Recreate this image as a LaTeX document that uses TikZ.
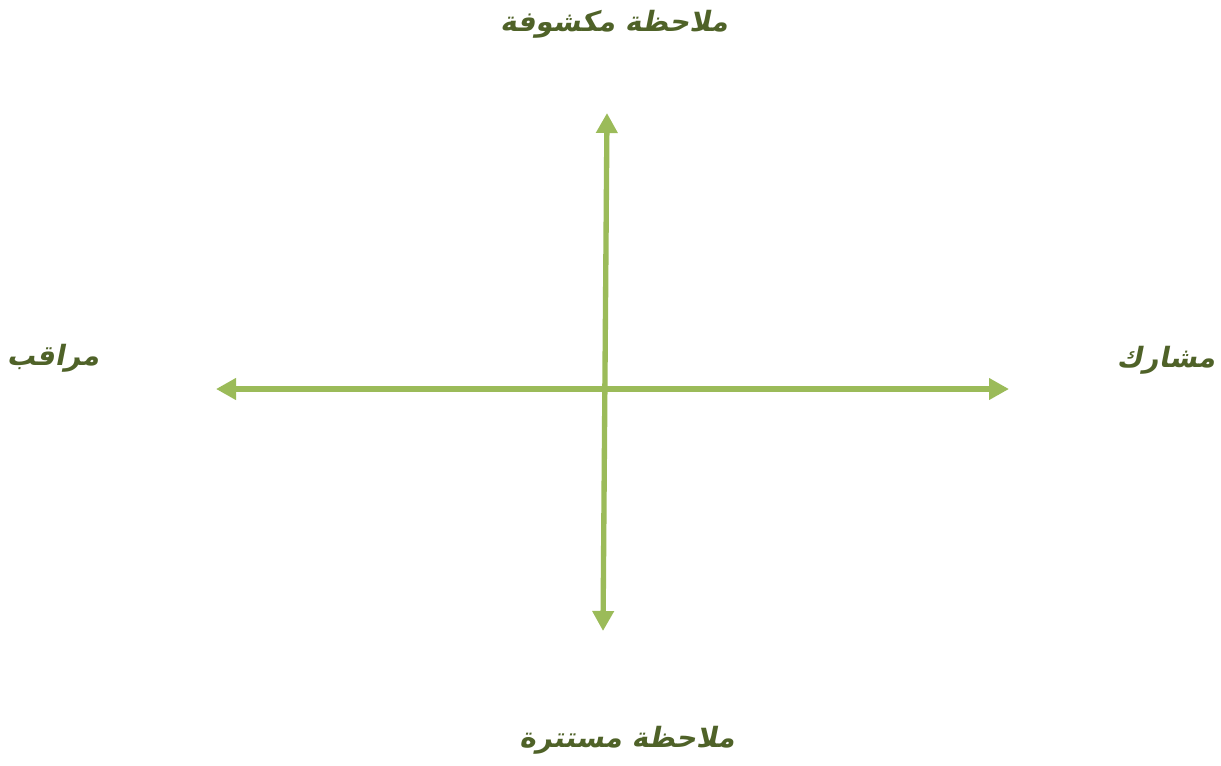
\documentclass[tikz,border=0pt]{standalone}
\usepackage{fontspec}
\usetikzlibrary{arrows.meta}
\TeXXeTstate=1
\newfontfamily\arabicfont[Script=Arabic,FakeSlant=0.2]{DejaVu Sans}
\definecolor{axisgreen}{HTML}{9BBB59}
\definecolor{labelgreen}{HTML}{4F6228}
\tikzset{
  axisline/.style={draw=axisgreen, line width=4pt, {Triangle[length=15pt,width=15.5pt]}-{Triangle[length=15pt,width=15.5pt]}},
  axislabel/.style={text=labelgreen, font=\arabicfont\bfseries\fontsize{21}{25}\selectfont, inner sep=0pt}
}
\begin{document}
\begin{tikzpicture}[x=0.75pt,y=-0.75pt]
\useasboundingbox (0,0) rectangle (1221,765);
\coordinate (top) at (607,113);
\coordinate (bottom) at (603,631);
\coordinate (left) at (216,389);
\coordinate (right) at (1009,389);
\draw[axisline] (bottom) -- (top);
\draw[axisline] (left) -- (right);
\node[axislabel] (toplabel) at (614,24) {\beginR ملاحظة مكشوفة\endR};
\node[axislabel] (bottomlabel) at (627,740) {\beginR ملاحظة مستترة\endR};
\node[axislabel] (leftlabel) at (53,358) {\beginR مراقب\endR};
\node[axislabel] (rightlabel) at (1166,360) {\beginR مشارك\endR};
\end{tikzpicture}
\end{document}
